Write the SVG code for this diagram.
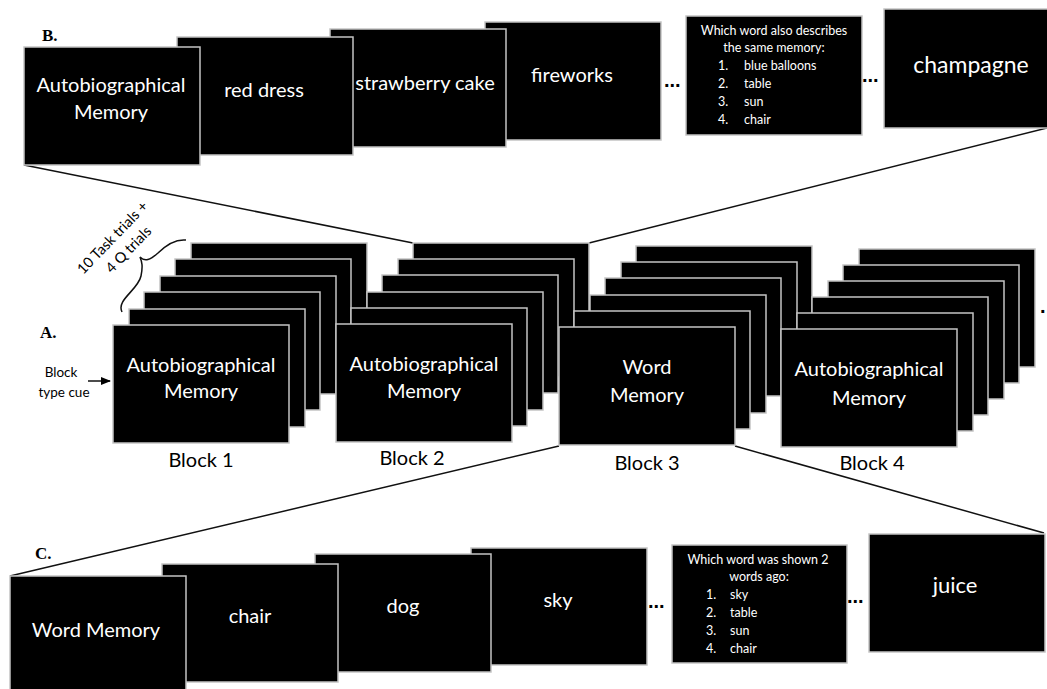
<svg xmlns="http://www.w3.org/2000/svg" width="1047" height="689" viewBox="0 0 1047 689">
<defs>
<style>
.card{fill:#000;stroke:#c4c4c4;stroke-width:1.5}
.t{font-family:Lato,"Liberation Sans",sans-serif;fill:#fff;text-anchor:middle}
.big{font-size:20px}
.q{font-family:Lato,"Liberation Sans",sans-serif;fill:#fff;font-size:12.5px}
.lbl{font-family:Lato,"Liberation Sans",sans-serif;fill:#000;text-anchor:middle}
.sec{font-family:"Liberation Serif",serif;font-weight:bold;font-size:17px;fill:#000}
.dots{font-family:"Liberation Sans",sans-serif;font-weight:bold;font-size:20px;fill:#000}
.conn{stroke:#111;stroke-width:1.5;fill:none}
</style>
<marker id="arr" viewBox="0 0 10 10" refX="9" refY="5" markerWidth="7" markerHeight="7" orient="auto">
<path d="M0,1 L10,5 L0,9 z" fill="#000"/>
</marker>
</defs>
<rect width="1047" height="689" fill="#fff"/>

<g id="connectors">
<line class="conn" x1="24" y1="165" x2="413" y2="243"/>
<line class="conn" x1="589" y1="243" x2="1047" y2="128"/>
<line class="conn" x1="559" y1="446" x2="10" y2="576"/>
<line class="conn" x1="735" y1="446" x2="1044" y2="533"/>
<line class="conn" x1="88" y1="381" x2="110" y2="381" marker-end="url(#arr)"/>
</g>

<!-- Section B -->
<text class="sec" x="42" y="41">B.</text>
<g id="b-champagne"><rect class="card" x="884" y="9" width="176" height="119"/><text class="t" x="971" y="73" font-size="23">champagne</text></g>
<text class="dots" x="862" y="82">...</text>
<g id="b-question"><rect class="card" x="686" y="16" width="176" height="119"/>
<text class="t" x="774" y="35" font-size="12.5">Which word also describes</text>
<text class="t" x="774" y="52" font-size="12.5">the same memory:</text>
<text class="q" x="718" y="70">1.</text><text class="q" x="744" y="70">blue balloons</text>
<text class="q" x="718" y="88">2.</text><text class="q" x="744" y="88">table</text>
<text class="q" x="718" y="106">3.</text><text class="q" x="744" y="106">sun</text>
<text class="q" x="718" y="124">4.</text><text class="q" x="744" y="124">chair</text>
</g>
<text class="dots" x="664" y="87">...</text>
<g id="b-fireworks"><rect class="card" x="485" y="22" width="176" height="118"/><text class="t big" x="572" y="82">fireworks</text></g>
<g id="b-strawberry"><rect class="card" x="330" y="29" width="176" height="118"/><text class="t big" x="425" y="90">strawberry cake</text></g>
<g id="b-reddress"><rect class="card" x="177" y="37" width="176" height="118"/><text class="t big" x="264" y="97">red dress</text></g>
<g id="b-auto"><rect class="card" x="24" y="47" width="176" height="118"/><text class="t big" x="111" y="92">Autobiographical</text><text class="t big" x="111" y="119">Memory</text></g>

<!-- Section A -->
<text class="sec" x="40" y="338">A.</text>
<g id="cue"><text class="lbl" x="61" y="377" font-size="13.5">Block</text><text class="lbl" x="64" y="397" font-size="13.5">type cue</text></g>
<g id="brace">
<path class="conn" stroke-width="1.3" d="M122,312 C116,300 138,290 141,276 C143,266 142,262 140,257 C145,262 150,260 158,253 C166,245 176,239 186,240"/>
<text class="lbl" font-size="14.5" transform="translate(116,241) rotate(-46)">10 Task trials +</text>
<text class="lbl" font-size="14.5" transform="translate(132,253) rotate(-46)">4 Q trials</text>
</g>

<g id="block1">
<rect class="card" x="191" y="243" width="176" height="118"/>
<rect class="card" x="175" y="259" width="176" height="118"/>
<rect class="card" x="160" y="276" width="176" height="118"/>
<rect class="card" x="144" y="292" width="176" height="118"/>
<rect class="card" x="129" y="309" width="176" height="118"/>
<rect class="card" x="113" y="325" width="176" height="118"/>
<text class="t big" x="201" y="372">Autobiographical</text><text class="t big" x="201" y="398">Memory</text>
<text class="lbl" x="201" y="467" font-size="20">Block 1</text>
</g>
<g id="block2">
<rect class="card" x="413" y="243" width="176" height="118"/>
<rect class="card" x="398" y="259" width="176" height="118"/>
<rect class="card" x="382" y="275" width="176" height="118"/>
<rect class="card" x="367" y="292" width="176" height="118"/>
<rect class="card" x="351" y="308" width="176" height="118"/>
<rect class="card" x="336" y="324" width="176" height="118"/>
<text class="t big" x="424" y="371">Autobiographical</text><text class="t big" x="424" y="398">Memory</text>
<text class="lbl" x="412" y="465" font-size="20">Block 2</text>
</g>
<g id="block3">
<rect class="card" x="636" y="246" width="176" height="118"/>
<rect class="card" x="621" y="262" width="176" height="118"/>
<rect class="card" x="605" y="278" width="176" height="118"/>
<rect class="card" x="590" y="295" width="176" height="118"/>
<rect class="card" x="574" y="311" width="176" height="118"/>
<rect class="card" x="559" y="327" width="176" height="118"/>
<text class="t big" x="647" y="374">Word</text><text class="t big" x="647" y="402">Memory</text>
<text class="lbl" x="647" y="470" font-size="20">Block 3</text>
</g>
<g id="block4">
<rect class="card" x="859" y="249" width="176" height="118"/>
<rect class="card" x="843" y="265" width="176" height="118"/>
<rect class="card" x="828" y="281" width="176" height="118"/>
<rect class="card" x="812" y="297" width="176" height="118"/>
<rect class="card" x="797" y="313" width="176" height="118"/>
<rect class="card" x="781" y="329" width="176" height="118"/>
<text class="t big" x="869" y="376">Autobiographical</text><text class="t big" x="869" y="405">Memory</text>
<text class="lbl" x="872" y="470" font-size="20">Block 4</text>
</g>
<text class="dots" x="1040" y="313">.</text>

<!-- Section C -->
<text class="sec" x="35" y="559">C.</text>
<g id="c-juice"><rect class="card" x="869" y="534" width="176" height="118"/><text class="t" x="955" y="593" font-size="22">juice</text></g>
<text class="dots" x="847" y="603">...</text>
<g id="c-question"><rect class="card" x="672" y="545" width="175" height="118"/>
<text class="t" x="758" y="564" font-size="12.5">Which word was shown 2</text>
<text class="t" x="759" y="581" font-size="12.5">words ago:</text>
<text class="q" x="706" y="599">1.</text><text class="q" x="730" y="599">sky</text>
<text class="q" x="706" y="617">2.</text><text class="q" x="730" y="617">table</text>
<text class="q" x="706" y="635">3.</text><text class="q" x="730" y="635">sun</text>
<text class="q" x="706" y="653">4.</text><text class="q" x="730" y="653">chair</text>
</g>
<text class="dots" x="648" y="608">...</text>
<g id="c-sky"><rect class="card" x="471" y="548" width="176" height="117"/><text class="t big" x="558" y="607">sky</text></g>
<g id="c-dog"><rect class="card" x="315" y="554" width="176" height="118"/><text class="t big" x="403" y="613">dog</text></g>
<g id="c-chair"><rect class="card" x="162" y="564" width="176" height="118"/><text class="t big" x="250" y="623">chair</text></g>
<g id="c-word"><rect class="card" x="10" y="576" width="176" height="125"/><text class="t big" x="96" y="637">Word Memory</text></g>
</svg>
